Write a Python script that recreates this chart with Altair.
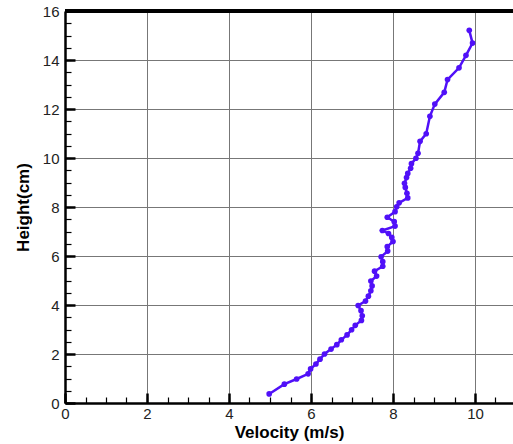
import altair as alt
import pandas as pd

# Data (bottom to top)
height_cm = [0.37, 0.77, 0.98, 1.19, 1.39, 1.59, 1.79, 2.00, 2.20, 2.38,
             2.58, 2.78, 2.99, 3.17, 3.37, 3.56, 3.77, 3.98, 4.16, 4.36,
             4.58, 4.78, 4.98, 5.18, 5.38, 5.58, 5.77, 5.97, 6.20, 6.38,
             6.59, 6.76, 6.92, 7.04, 7.22, 7.40, 7.58, 7.81, 8.01, 8.17,
             8.37, 8.56, 8.80, 8.97, 9.20, 9.37, 9.58, 9.77, 9.99, 10.19,
             10.68, 10.99, 11.70, 12.20, 12.68, 13.20, 13.68, 14.19, 14.69, 15.21]
velocity = [4.98, 5.35, 5.65, 5.93, 5.99, 6.12, 6.22, 6.33, 6.49, 6.63,
            6.74, 6.88, 6.99, 7.08, 7.23, 7.25, 7.22, 7.15, 7.33, 7.40,
            7.46, 7.49, 7.46, 7.60, 7.55, 7.75, 7.75, 7.71, 7.87, 7.86,
            8.00, 7.97, 7.89, 7.74, 8.05, 8.03, 7.86, 8.05, 8.09, 8.15,
            8.36, 8.34, 8.30, 8.28, 8.33, 8.36, 8.43, 8.45, 8.56, 8.61,
            8.66, 8.81, 8.90, 9.02, 9.25, 9.33, 9.61, 9.78, 9.94, 9.86]

x_major = [0, 2, 4, 6, 8, 10]
y_major = [0, 2, 4, 6, 8, 10, 12, 14, 16]
x_minor = [0, 0.5, 1, 1.5, 2, 2.5, 3, 3.5, 4, 4.5, 5, 5.5, 6, 6.5, 7, 7.5,
           8, 8.5, 9, 9.5, 10, 10.5]
y_minor = [0, 0.5, 1, 1.5, 2, 2.5, 3, 3.5, 4, 4.5, 5, 5.5, 6, 6.5, 7, 7.5,
           8, 8.5, 9, 9.5, 10, 10.5, 11, 11.5, 12, 12.5, 13, 13.5, 14, 14.5,
           15, 15.5, 16]

COLOR = "#5010f8"
FONT = "Liberation Sans"
PLOT_W = 448
PLOT_H = 392
X_MAX = PLOT_W / 41.0

df = pd.DataFrame({"v": velocity, "h": height_cm, "i": list(range(len(velocity)))})

xscale = alt.Scale(domain=[0, X_MAX], nice=False, zero=False)
yscale = alt.Scale(domain=[0, 16], nice=False, zero=False)

major_common = dict(
    grid=True, gridColor="#777777", gridWidth=1,
    tickSize={"expr": "-10"}, tickWidth=2.5, tickColor="black",
    domainColor="black", domainWidth=2.5,
    labelFont=FONT, labelFontSize=15, labelColor="#222222", labelFlush=False,
    titleFont=FONT, titleFontSize=17, titleFontWeight="bold", titleColor="black",
    format="d",
)

line = alt.Chart(df).mark_line(color=COLOR, strokeWidth=2.5).encode(
    x=alt.X("v:Q", scale=xscale,
            axis=alt.Axis(values=x_major, orient="bottom", title="Velocity (m/s)",
                          labelPadding=13, titlePadding=3, **major_common)),
    y=alt.Y("h:Q", scale=yscale,
            axis=alt.Axis(values=y_major, orient="left", title="Height(cm)",
                          labelPadding=16, titlePadding=10, **major_common)),
    order="i:Q",
)

minor_common = dict(
    labels=False, domain=False, grid=False, title=None,
    tickSize={"expr": "-6"}, tickWidth=1.2, tickColor="black",
)

points = alt.Chart(df).mark_circle(color=COLOR, size=32, opacity=1).encode(
    x=alt.X("v:Q", scale=xscale,
            axis=alt.Axis(values=x_minor, orient="bottom", **minor_common)),
    y=alt.Y("h:Q", scale=yscale,
            axis=alt.Axis(values=y_minor, orient="left", **minor_common)),
)

top = alt.Chart(df).mark_rule(color="black", strokeWidth=2.5).encode(
    y=alt.YDatum(16, axis=None, scale=yscale),
)

chart = alt.layer(line, points, top).resolve_axis(
    x="independent", y="independent"
).properties(
    width=PLOT_W, height=PLOT_H,
    autosize=alt.AutoSizeParams(type="none"),
    padding={"left": 65, "top": 11, "right": 0, "bottom": 41},
    background="white",
).configure_view(stroke=None)

chart.save("out.html", embed_options={"renderer": "svg", "actions": False})
